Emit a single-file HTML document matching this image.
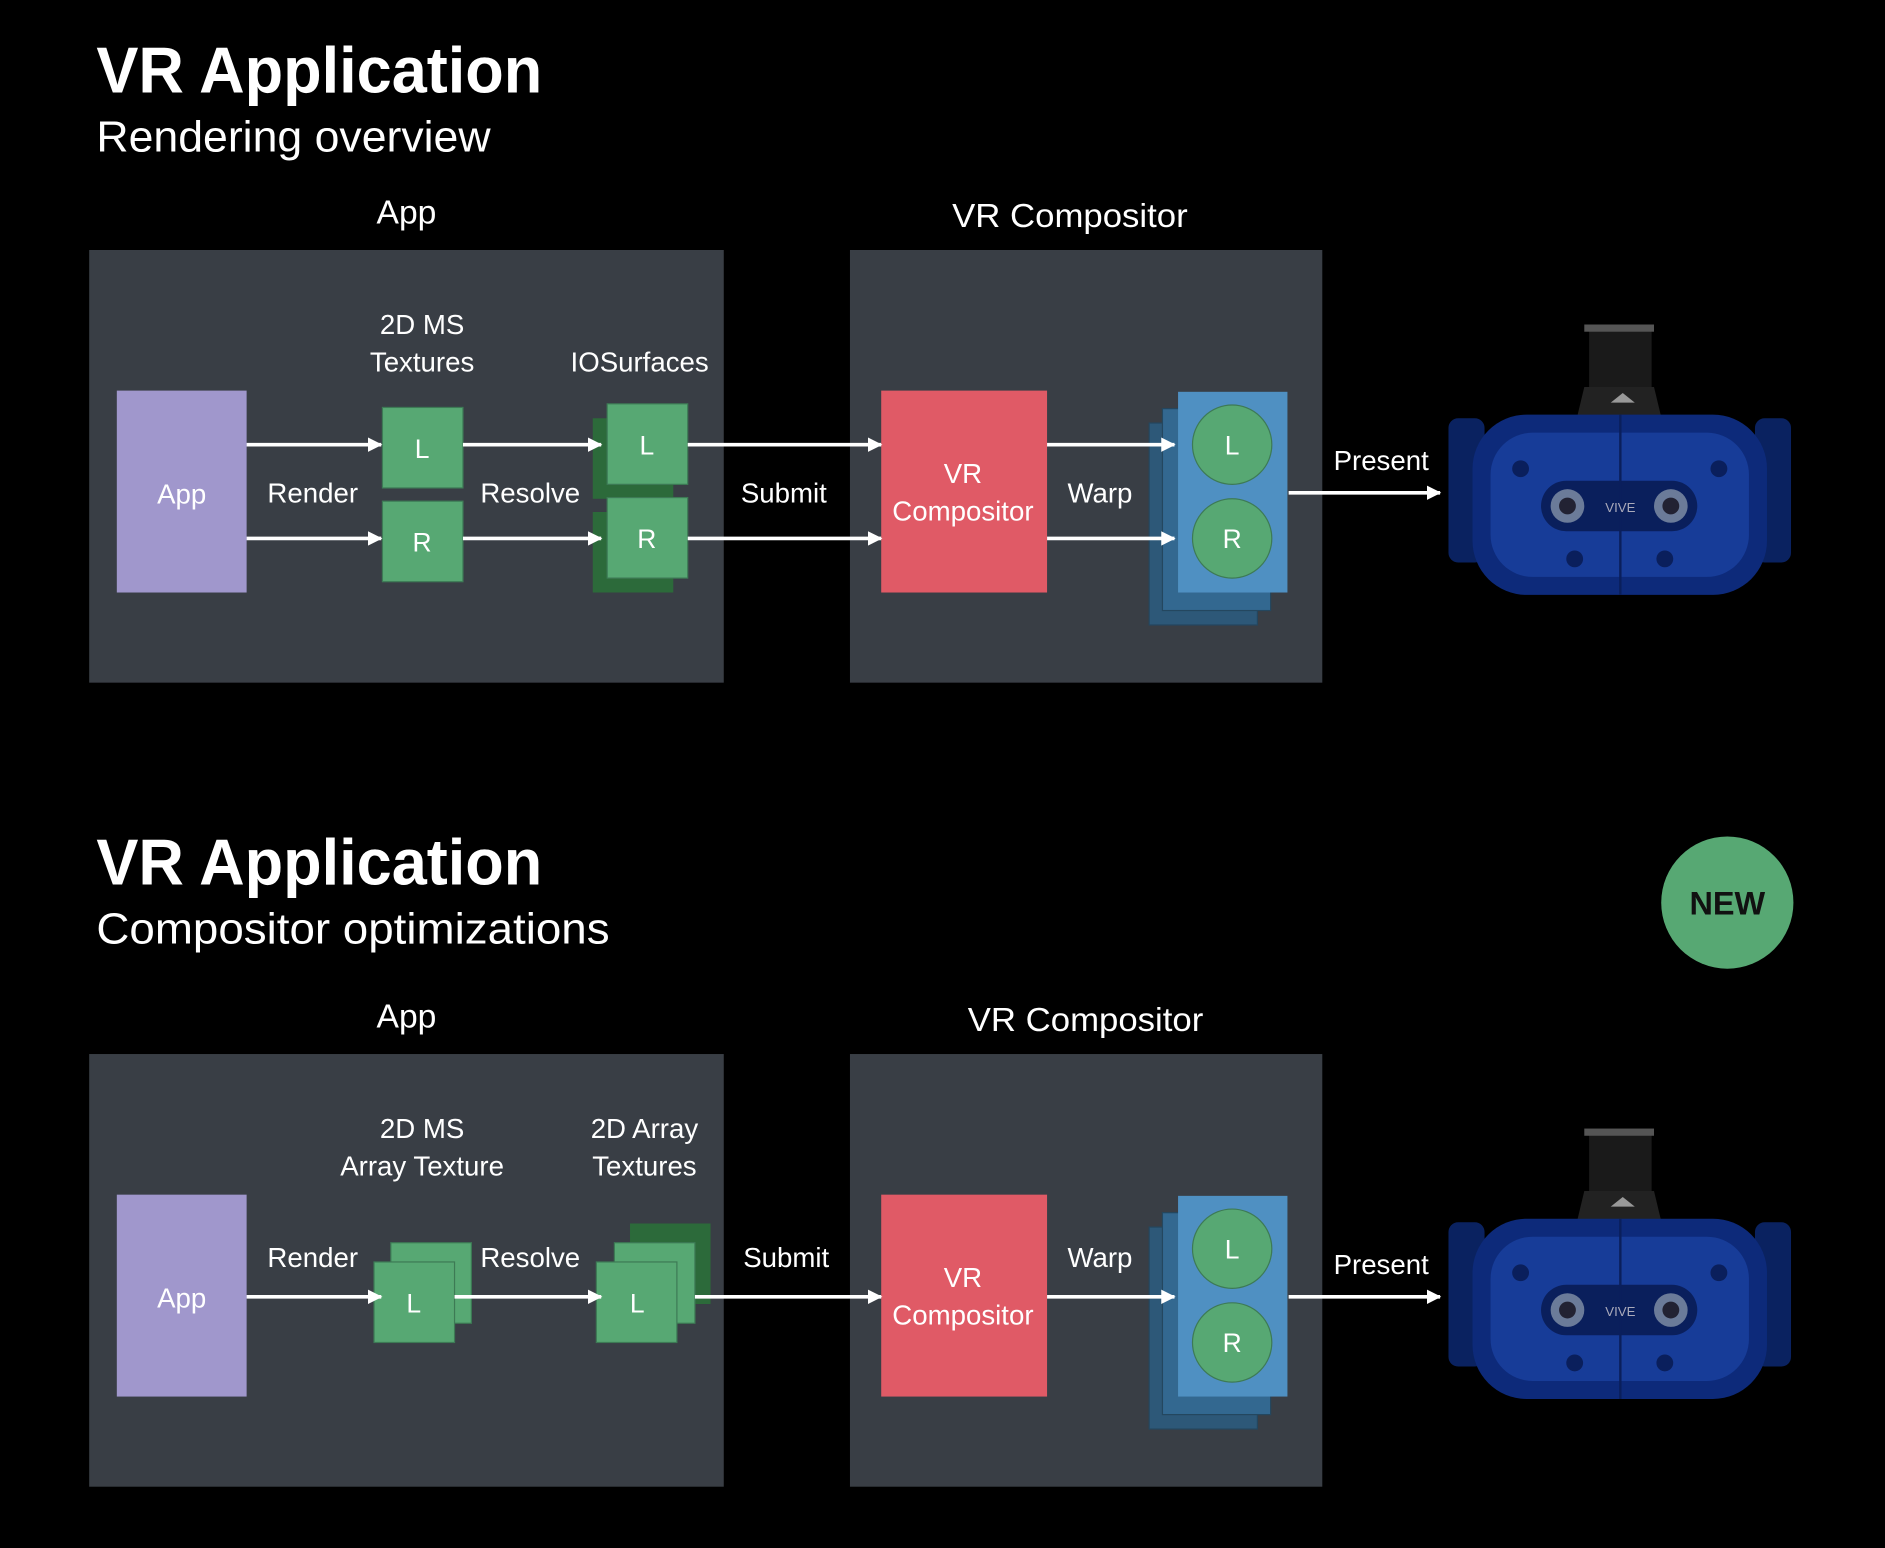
<!DOCTYPE html>
<html><head><meta charset="utf-8"><style>
html,body{margin:0;padding:0;background:#000;}
svg{display:block;}
text{font-family:"Liberation Sans",sans-serif;fill:#fff;}
</style></head><body>
<svg width="1885" height="1548" viewBox="0 0 1568 1288" xmlns="http://www.w3.org/2000/svg">
<defs>
<marker id="ah" markerWidth="12" markerHeight="12" refX="11" refY="6" orient="auto" markerUnits="userSpaceOnUse"><path d="M0,0 L12,6 L0,12 z" fill="#fff"/></marker>
<g id="hs">
<rect x="1322" y="272" width="52" height="50" fill="#1a1a1a"/>
<rect x="1318" y="270" width="58" height="6" fill="#555"/>
<path d="M1318,322 h58 l6,25 h-70 z" fill="#222"/>
<path d="M1340,335 l10,-8 l10,8 z" fill="#999"/>
<rect x="1205" y="348" width="30" height="120" rx="8" fill="#0a2260"/>
<rect x="1460" y="348" width="30" height="120" rx="8" fill="#0a2260"/>
<rect x="1225" y="345" width="245" height="150" rx="45" fill="#0d2a7a"/>
<rect x="1240" y="360" width="215" height="120" rx="35" fill="#173c98"/>
<rect x="1282" y="400" width="130" height="42" rx="21" fill="#0a1f5c"/>
<circle cx="1304" cy="421" r="14" fill="#6b7b99"/><circle cx="1304" cy="421" r="7" fill="#223"/>
<circle cx="1390" cy="421" r="14" fill="#6b7b99"/><circle cx="1390" cy="421" r="7" fill="#223"/>
<circle cx="1265" cy="390" r="7" fill="#0a1f5c"/><circle cx="1430" cy="390" r="7" fill="#0a1f5c"/>
<circle cx="1310" cy="465" r="7" fill="#0a1f5c"/><circle cx="1385" cy="465" r="7" fill="#0a1f5c"/>
<line x1="1348" y1="345" x2="1348" y2="495" stroke="#0a1f5c" stroke-width="2"/>
</g>
<g id="blue">
<rect x="956" y="352" width="90" height="168" fill="#2d5878" stroke="#24475f"/>
<rect x="967" y="340" width="90" height="168" fill="#336890" stroke="#24475f"/>
<rect x="980" y="326" width="91" height="167" fill="#4f90c2"/>
<circle cx="1025" cy="370" r="33" fill="#57a873" stroke="#3d7a55"/>
<circle cx="1025" cy="448" r="33" fill="#57a873" stroke="#3d7a55"/>
</g>
</defs>
<rect width="1568" height="1288" fill="#000"/>

<!-- TOP -->
<text x="80" y="77" font-size="54" font-weight="bold" textLength="371" lengthAdjust="spacingAndGlyphs">VR Application</text>
<text x="80" y="126" font-size="36" textLength="328" lengthAdjust="spacingAndGlyphs">Rendering overview</text>
<text x="338" y="186" font-size="28" text-anchor="middle">App</text>
<text x="890" y="189" font-size="28" text-anchor="middle" textLength="196" lengthAdjust="spacingAndGlyphs">VR Compositor</text>
<rect x="74" y="208" width="528" height="360" fill="#393e45"/>
<rect x="707" y="208" width="393" height="360" fill="#393e45"/>
<rect x="97" y="325" width="108" height="168" fill="#a097cc"/>
<text x="151" y="419" font-size="23" text-anchor="middle">App</text>
<text x="260" y="418" font-size="23" text-anchor="middle">Render</text>
<text x="441" y="418" font-size="23" text-anchor="middle">Resolve</text>
<text x="652" y="418" font-size="23" text-anchor="middle">Submit</text>
<text x="915" y="418" font-size="23" text-anchor="middle">Warp</text>
<text x="1149" y="391" font-size="23" text-anchor="middle">Present</text>
<text x="351" y="278" font-size="23" text-anchor="middle">2D MS</text>
<text x="351" y="309" font-size="23" text-anchor="middle">Textures</text>
<text x="532" y="309" font-size="23" text-anchor="middle">IOSurfaces</text>
<rect x="318" y="339" width="67" height="67" fill="#57a873" stroke="#3d7a55"/>
<rect x="318" y="417" width="67" height="67" fill="#57a873" stroke="#3d7a55"/>
<text x="351" y="381" font-size="22" text-anchor="middle">L</text>
<text x="351" y="459" font-size="22" text-anchor="middle">R</text>
<rect x="493" y="348" width="67" height="67" fill="#2c6a3a"/>
<rect x="493" y="426" width="67" height="67" fill="#2c6a3a"/>
<rect x="505" y="336" width="67" height="67" fill="#57a873" stroke="#3d7a55"/>
<rect x="505" y="414" width="67" height="67" fill="#57a873" stroke="#3d7a55"/>
<text x="538" y="378" font-size="22" text-anchor="middle">L</text>
<text x="538" y="456" font-size="22" text-anchor="middle">R</text>
<rect x="733" y="325" width="138" height="168" fill="#e05a66"/>
<text x="801" y="402" font-size="23" text-anchor="middle">VR</text>
<text x="801" y="433" font-size="23" text-anchor="middle">Compositor</text>
<use href="#blue"/>
<text x="1025" y="378" font-size="22" text-anchor="middle">L</text>
<text x="1025" y="456" font-size="22" text-anchor="middle">R</text>
<use href="#hs"/>
<text x="1348" y="426" font-size="11" text-anchor="middle" style="fill:#aab">VIVE</text>
<g stroke="#fff" stroke-width="3" marker-end="url(#ah)">
<line x1="205" y1="370" x2="317" y2="370"/><line x1="205" y1="448" x2="317" y2="448"/>
<line x1="385" y1="370" x2="500" y2="370"/><line x1="385" y1="448" x2="500" y2="448"/>
<line x1="572" y1="370" x2="733" y2="370"/><line x1="572" y1="448" x2="733" y2="448"/>
<line x1="871" y1="370" x2="977" y2="370"/><line x1="871" y1="448" x2="977" y2="448"/>
<line x1="1072" y1="410" x2="1198" y2="410"/>
</g>

<!-- BOTTOM -->
<text x="80" y="736" font-size="54" font-weight="bold" textLength="371" lengthAdjust="spacingAndGlyphs">VR Application</text>
<text x="80" y="785" font-size="36" textLength="427" lengthAdjust="spacingAndGlyphs">Compositor optimizations</text>
<circle cx="1437" cy="751" r="55" fill="#57a873"/>
<text x="1437" y="761" font-size="27" font-weight="bold" text-anchor="middle" style="fill:#111">NEW</text>
<text x="338" y="855" font-size="28" text-anchor="middle">App</text>
<text x="903" y="858" font-size="28" text-anchor="middle" textLength="196" lengthAdjust="spacingAndGlyphs">VR Compositor</text>
<rect x="74" y="877" width="528" height="360" fill="#393e45"/>
<rect x="707" y="877" width="393" height="360" fill="#393e45"/>
<rect x="97" y="994" width="108" height="168" fill="#a097cc"/>
<text x="151" y="1088" font-size="23" text-anchor="middle">App</text>
<text x="351" y="947" font-size="23" text-anchor="middle">2D MS</text>
<text x="351" y="978" font-size="23" text-anchor="middle">Array Texture</text>
<text x="536" y="947" font-size="23" text-anchor="middle">2D Array</text>
<text x="536" y="978" font-size="23" text-anchor="middle">Textures</text>
<rect x="325" y="1034" width="67" height="67" fill="#57a873" stroke="#3d7a55"/>
<rect x="311" y="1050" width="67" height="67" fill="#57a873" stroke="#3d7a55"/>
<text x="344" y="1092" font-size="22" text-anchor="middle">L</text>
<rect x="524" y="1018" width="67" height="67" fill="#2c6a3a"/>
<rect x="511" y="1034" width="67" height="67" fill="#57a873" stroke="#3d7a55"/>
<rect x="496" y="1050" width="67" height="67" fill="#57a873" stroke="#3d7a55"/>
<text x="530" y="1092" font-size="22" text-anchor="middle">L</text>
<text x="260" y="1054" font-size="23" text-anchor="middle">Render</text>
<text x="441" y="1054" font-size="23" text-anchor="middle">Resolve</text>
<text x="654" y="1054" font-size="23" text-anchor="middle">Submit</text>
<text x="915" y="1054" font-size="23" text-anchor="middle">Warp</text>
<text x="1149" y="1060" font-size="23" text-anchor="middle">Present</text>
<rect x="733" y="994" width="138" height="168" fill="#e05a66"/>
<text x="801" y="1071" font-size="23" text-anchor="middle">VR</text>
<text x="801" y="1102" font-size="23" text-anchor="middle">Compositor</text>
<use href="#blue" transform="translate(0,669)"/>
<text x="1025" y="1047" font-size="22" text-anchor="middle">L</text>
<text x="1025" y="1125" font-size="22" text-anchor="middle">R</text>
<use href="#hs" transform="translate(0,669)"/>
<text x="1348" y="1095" font-size="11" text-anchor="middle" style="fill:#aab">VIVE</text>
<g stroke="#fff" stroke-width="3" marker-end="url(#ah)">
<line x1="205" y1="1079" x2="317" y2="1079"/>
<line x1="378" y1="1079" x2="500" y2="1079"/>
<line x1="578" y1="1079" x2="733" y2="1079"/>
<line x1="871" y1="1079" x2="977" y2="1079"/>
<line x1="1072" y1="1079" x2="1198" y2="1079"/>
</g>
</svg>
</body></html>
